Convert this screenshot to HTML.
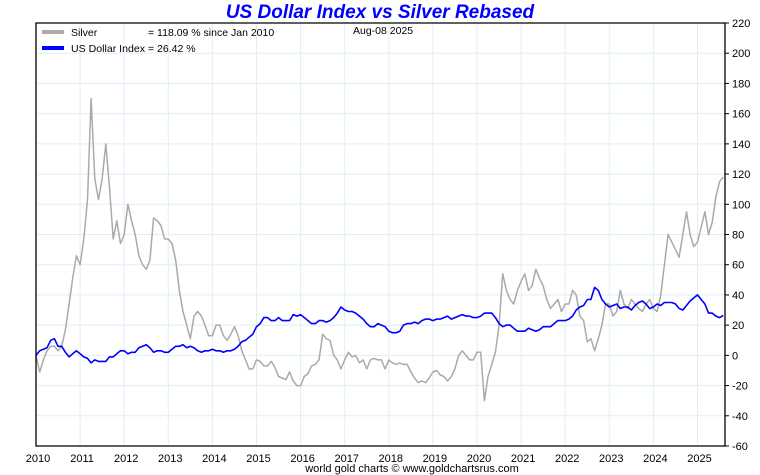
<!DOCTYPE html>
<html><head><meta charset="utf-8"><style>
html,body{margin:0;padding:0;background:#fff;}
svg{display:block;font-family:"Liberation Sans",sans-serif;}
</style></head><body>
<svg id="c" width="760" height="475" xmlns="http://www.w3.org/2000/svg">
<text x="380" y="18" text-anchor="middle" font-size="19" font-weight="bold" font-style="italic" fill="#0000ff">US Dollar Index vs Silver Rebased</text>
<g id="grid"></g>
<g id="series"></g>
<g id="axes"></g>
<g>
<line x1="42" y1="32" x2="64" y2="32" stroke="#aaaaaa" stroke-width="4"/>
<text x="71" y="36" font-size="10.5">Silver</text>
<text x="148" y="36" font-size="10.5">= 118.09 % since Jan 2010</text>
<line x1="42" y1="48" x2="64" y2="48" stroke="#0000ff" stroke-width="4"/>
<text x="71" y="52" font-size="10.5" textLength="74" lengthAdjust="spacingAndGlyphs">US Dollar Index</text>
<text x="148" y="52" font-size="10.5">= 26.42 %</text>
</g>
<text x="353" y="34" font-size="10.5">Aug-08  2025</text>
<text x="412" y="472" text-anchor="middle" font-size="11">world gold charts © www.goldchartsrus.com</text>
</svg>
<script>
const silver = [
0,-11,-3,3,6,6,3,6,17,34,51,66,
60,77,103,170,117,103,117,140,111,77,89,74,
80,100,89,80,66,60,57,63,91,89,86,77,
77,74,63,43,29,20,11,26,29,26,20,13,
13,20,20,13,10,14,19,13,3,-3,-9,-9,
-3,-4,-7,-7,-4,-8,-14,-15,-16,-11,-17,-20,
-20,-14,-12,-7,-6,-3,14,11,10,0,-3,-9,
-3,2,-1,0,-5,-3,-9,-3,-2,-3,-3,-9,
-3,-5,-6,-5,-6,-6,-11,-15,-18,-17,-18,-15,
-11,-10,-13,-14,-17,-14,-9,0,3,0,-3,-3,
2,2,-30,-14,-6,2,20,54,43,37,34,43,
49,54,43,46,57,51,46,37,31,34,37,29,
34,34,43,40,26,23,9,11,3,11,20,34,
34,26,29,43,34,31,37,34,31,29,34,37,
31,29,40,60,80,75,70,65,80,95,80,72,
75,85,95,80,88,105,115,118.09];
const dollar = [
0,3,4,5,10,11,6,6,2,-1,1,3,
1,-1,-2,-5,-3,-4,-4,-4,-1,-1,1,3,
3,1,2,2,5,6,7,5,2,3,3,2,
2,4,6,6,7,5,6,5,3,2,3,3,
4,3,3,2,3,3,4,6,9,10,12,14,
19,21,25,25,23,23,25,23,23,23,27,26,
27,25,23,21,21,23,23,22,23,25,28,32,
30,29,29,28,26,24,21,19,19,21,20,19,
16,15,15,16,20,21,21,22,21,23,24,24,
23,24,24,25,26,24,25,26,27,26,26,25,
25,26,28,28,28,25,21,19,20,20,18,16,
16,16,18,17,16,17,19,19,19,21,23,23,
23,24,26,30,32,33,37,37,45,43,37,34,
32,33,34,31,32,32,30,33,35,36,34,31,
32,34,33,35,35,35,34,31,30,33,36,38,
40,37,34,28,28,26,25,26.42];
const yTicks = [220,200,180,160,140,120,100,80,60,40,20,0,-20,-40,-60];
const xTicks = [2010,2011,2012,2013,2014,2015,2016,2017,2018,2019,2020,2021,2022,2023,2024,2025];
const startYear = 2010;

const L=36,R=725,T=23,B=446;
const x = yr => L + (yr-2010)*44.1;
const y = v => T + (220-v)*(B-T)/280;
const NS='http://www.w3.org/2000/svg';
function mk(tag,parent){const e=document.createElementNS(NS,tag);document.getElementById(parent).appendChild(e);return e;}

yTicks.forEach(v=>{
  const g=mk('line','grid');
  
  
  g.setAttribute('x1',L);g.setAttribute('x2',R);g.setAttribute('y1',y(v));g.setAttribute('y2',y(v));
  g.setAttribute('stroke','#dfeefa');g.setAttribute('stroke-width','1');
  const tk=mk('line','axes');
  
  
  tk.setAttribute('x1',R);tk.setAttribute('x2',R+4);tk.setAttribute('y1',y(v));tk.setAttribute('y2',y(v));tk.setAttribute('stroke','#000');
  const t=mk('text','axes');
  
  
  t.setAttribute('x',R+7);t.setAttribute('y',y(v)+4);t.setAttribute('font-size','11');
  t.textContent=v;
});
xTicks.forEach(yr=>{
  const g=mk('line','grid');
  
  
  g.setAttribute('x1',x(yr));g.setAttribute('x2',x(yr));g.setAttribute('y1',T);g.setAttribute('y2',B);
  g.setAttribute('stroke','#dfeefa');g.setAttribute('stroke-width','1');
  const t=mk('text','axes');
  
  
  t.setAttribute('x',x(yr)+2);t.setAttribute('y',B+16);t.setAttribute('font-size','11');t.setAttribute('text-anchor','middle');
  t.textContent=yr;
});
function path(arr,color,w,name){
  const p=mk('path','series');
  
  
  p.setAttribute('d',arr.map((v,i)=>(i?'L':'M')+x(startYear+i/12).toFixed(1)+','+y(v).toFixed(1)).join(''));
  p.setAttribute('fill','none');p.setAttribute('stroke',color);p.setAttribute('stroke-width',w);p.setAttribute('stroke-linejoin','round');
}
path(silver,'#aaaaaa',1.5,'silver-line');
path(dollar,'#0000ff',1.6,'dollar-index-line');
const ax=mk('path','axes');


ax.setAttribute('d',`M${L},${T}L${R},${T}L${R},${B}L${L},${B}Z`);
ax.setAttribute('fill','none');ax.setAttribute('stroke','#000');ax.setAttribute('stroke-width','1.3');
</script>
</body></html>
